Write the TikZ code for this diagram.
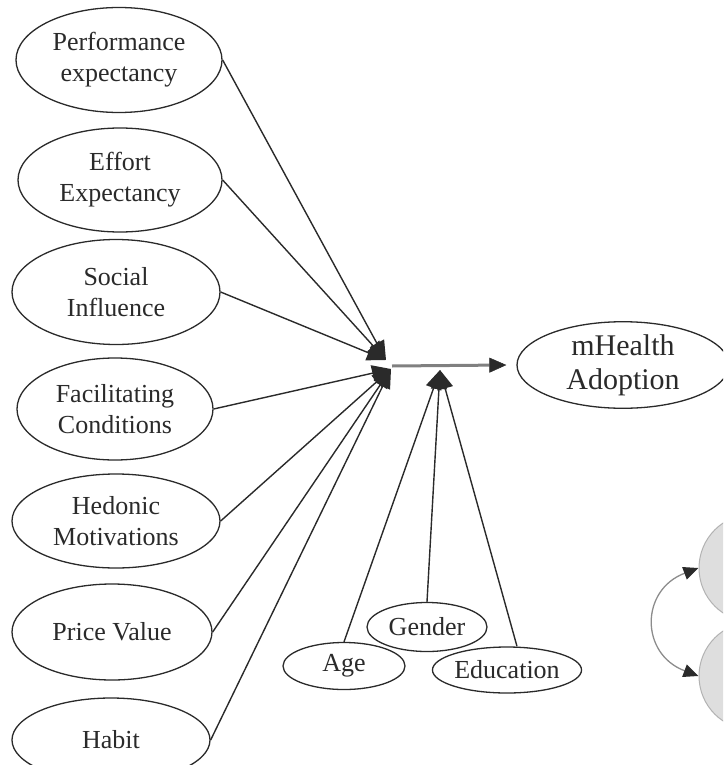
\documentclass[tikz,border=0pt]{standalone}
\usepackage{fontspec}
\setmainfont{Liberation Serif}
\usetikzlibrary{shapes.geometric,arrows.meta}
\definecolor{ink}{HTML}{2A2A2A}
\begin{document}
\begin{tikzpicture}[x=1pt,y=-1pt,
  cons/.style={ellipse,draw=ink,line width=1.3pt,fill=white,inner sep=0pt,align=center,text=ink,font=\fontsize{26}{31}\selectfont},
  link/.style={draw=ink,line width=1.4pt,-{Triangle[length=19pt,width=16pt]}},
  mainlink/.style={draw=black!50,line width=3pt,-{Triangle[length=17pt,width=15pt,color=ink,fill=ink,line width=0.5pt]}},
  greyc/.style={circle,fill=black!13,draw=black!30,line width=1pt,minimum size=108pt,inner sep=0pt},
]
\useasboundingbox (0,0) rectangle (723,765);
\clip (0,0) rectangle (723,765);

\node[cons,minimum width=206pt,minimum height=105pt] (pe) at (119,60) {Performance\\expectancy};
\node[cons,minimum width=204pt,minimum height=104pt] (ee) at (120,180) {Effort\\Expectancy};
\node[cons,minimum width=208pt,minimum height=105pt] (si) at (116,292) {Social\\Influence};
\node[cons,minimum width=196pt,minimum height=102pt] (fc) at (115,409) {Facilitating\\Conditions};
\node[cons,minimum width=208pt,minimum height=94pt] (hm) at (116,521) {Hedonic\\Motivations};
\node[cons,minimum width=200pt,minimum height=96pt] (pv) at (112,632) {Price Value};
\node[cons,minimum width=198pt,minimum height=84pt] (hb) at (111,740) {Habit};

\node[cons,minimum width=212pt,minimum height=86pt,font=\fontsize{30}{34}\selectfont] (mh) at (623,365) {mHealth\\Adoption};

\node[cons,minimum width=122pt,minimum height=47pt] (age) at (344,666) {Age};
\node[cons,minimum width=120pt,minimum height=49pt] (gen) at (427,627) {Gender};
\node[cons,minimum width=146pt,minimum height=46pt] (edu) at (507,670) {Education};

\node[greyc] (c1) at (753,568) {};
\node[greyc] (c2) at (753,676) {};

\coordinate (hubA) at (386,360);
\coordinate (hubB) at (391,369);
\coordinate (hub) at (392,366);
\coordinate (mod) at (440,370);

\foreach \n in {pe,ee,si}
  \draw[link] (\n.east) -- (hubA);
\foreach \n in {fc,hm,pv,hb}
  \draw[link] (\n.east) -- (hubB);

\draw[mainlink] (hub) -- ([xshift=-10pt]mh.west);

\draw[link] (age.north) -- (mod);
\draw[link] (gen.north) -- (mod);
\draw[link] ([xshift=10pt]edu.north) -- (mod);

\draw[draw=black!45,line width=1.3pt,{Triangle[length=15pt,width=13pt,color=ink,fill=ink]}-{Triangle[length=15pt,width=13pt,color=ink,fill=ink]}]
  (c1.west) .. controls (640,590) and (640,654) .. (c2.west);
\end{tikzpicture}
\end{document}
